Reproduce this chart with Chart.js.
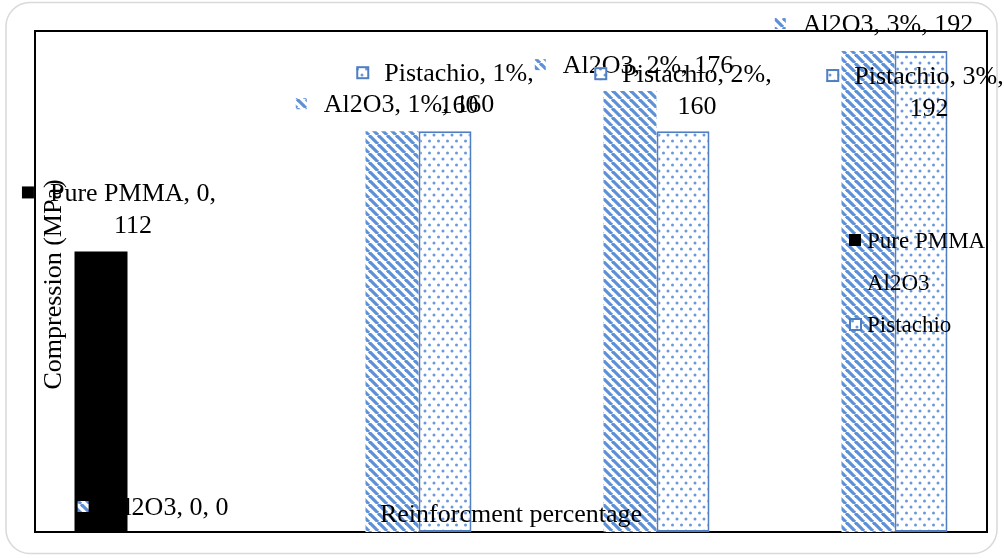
<!DOCTYPE html>
<html>
<head>
<meta charset="utf-8">
<script src="https://cdn.jsdelivr.net/npm/chart.js@4"></script>
<style>
html,body{margin:0;padding:0;background:#fff;}
#wrap{width:1004px;height:558px;position:relative;}
</style>
</head>
<body>
<div id="wrap"><canvas id="c" width="1004" height="558"></canvas></div>
<script>
// ---- data ----
const categories = ['0', '1%', '2%', '3%'];
const seriesNames = ['Pure PMMA', 'Al2O3', 'Pistachio'];
const pmmaValues = [112, null, null, null];
const al2o3Values = [0, 160, 176, 192];
const pistachioValues = [null, 160, 160, 192];
const yTickMin = 0;
const yTickMax = 200;
const yTitle = 'Compression (MPa)';
const xTitle = 'Reinforcment percentage';

// ---- patterns ----
const BLUE = '#5e90d8';
function stripePattern() {
  const s = 9;
  const c = document.createElement('canvas');
  c.width = s; c.height = s;
  const g = c.getContext('2d');
  g.fillStyle = '#fff'; g.fillRect(0, 0, s, s);
  g.strokeStyle = BLUE; g.lineWidth = 3.2;
  for (const x0 of [-s, 0, s]) {
    g.beginPath(); g.moveTo(x0, 0); g.lineTo(x0 + s, s); g.stroke();
  }
  return g.createPattern(c, 'repeat');
}
function dotPattern() {
  const w = 9, h = 12;
  const c = document.createElement('canvas');
  c.width = w; c.height = h;
  const g = c.getContext('2d');
  g.fillStyle = '#fff'; g.fillRect(0, 0, w, h);
  g.fillStyle = '#6b98da';
  for (const [x, y] of [[2, 3], [6.5, 9]]) {
    g.beginPath(); g.arc(x, y, 1.5, 0, Math.PI * 2); g.fill();
  }
  return g.createPattern(c, 'repeat');
}
const stripes = stripePattern();
const dots = dotPattern();

const SERIF = '"Liberation Serif", "Times New Roman", serif';

// label layout (styling only): offsets relative to each bar
const labelLayout = {
  '0-0': {dx: 32, dy: -50, two: true},
  '1-0': {dx: 13, dy: -17, two: false, under: true},
  '1-1': {dx: 17, dy: -19, two: false},
  '1-2': {dx: 18, dy: -18, two: false},
  '1-3': {dx: 20, dy: -19, two: false},
  '2-1': {dx: 14, dy: -50, two: true},
  '2-2': {dx: 14, dy: -49, two: true},
  '2-3': {dx: 8, dy: 33, two: true}
};

function drawKey(ctx, di, x, cy) {
  ctx.save();
  if (di === 0) {
    ctx.fillStyle = '#000';
    ctx.fillRect(x, cy - 6, 12, 12);
  } else if (di === 1) {
    ctx.fillStyle = stripes;
    ctx.fillRect(x, cy - 5, 11, 11);
  } else {
    ctx.fillStyle = dots;
    ctx.fillRect(x, cy - 6, 13, 13);
    ctx.strokeStyle = '#4f7fc0'; ctx.lineWidth = 2;
    ctx.strokeRect(x + 1, cy - 5, 11, 11);
  }
  ctx.restore();
}

function drawLabels(chart, under) {
  const ctx = chart.ctx;
  ctx.save();
  ctx.font = '26px ' + SERIF;
  ctx.fillStyle = '#000';
  ctx.textBaseline = 'alphabetic';
  ctx.textAlign = 'center';
  chart.data.datasets.forEach((ds, di) => {
    const meta = chart.getDatasetMeta(di);
    ds.data.forEach((v, i) => {
      if (v === null || v === undefined) return;
      const L = labelLayout[di + '-' + i];
      if (!L) return;
      const bar = meta.data[i];
      const cx = bar.x + L.dx;
      const by = bar.y + L.dy;
      const lines = L.two
        ? [seriesNames[di] + ', ' + categories[i] + ',', String(v)]
        : [seriesNames[di] + ', ' + categories[i] + ', ' + v];
      const w1 = ctx.measureText(lines[0]).width;
      if (under === !!L.under) {
        lines.forEach((t, k) => ctx.fillText(t, cx, by + k * 32));
      }
      if (!under) drawKey(ctx, di, cx - w1 / 2 - 28, by - 9);
    });
  });
  ctx.restore();
}

const decor = {
  id: 'decor',
  beforeDraw(chart) {
    const ctx = chart.ctx;
    ctx.save();
    ctx.fillStyle = '#fff';
    ctx.fillRect(0, 0, chart.width, chart.height);
    ctx.strokeStyle = '#d9d9d9';
    ctx.lineWidth = 1.5;
    ctx.beginPath();
    ctx.roundRect(6, 2.5, 991, 551, 24);
    ctx.stroke();
    ctx.restore();
  },
  beforeDatasetsDraw(chart) {
    const ctx = chart.ctx;
    const a = chart.chartArea;
    ctx.save();
    ctx.strokeStyle = '#000';
    ctx.lineWidth = 2;
    ctx.strokeRect(a.left, a.top, a.right - a.left, a.bottom - a.top);
    ctx.restore();
    drawLabels(chart, true);
  },
  afterDatasetsDraw(chart) {
    const ctx = chart.ctx;
    const a = chart.chartArea;
    drawLabels(chart, false);
    ctx.save();
    ctx.fillStyle = '#000';
    ctx.font = '26px ' + SERIF;
    ctx.textAlign = 'center';
    ctx.textBaseline = 'alphabetic';
    ctx.fillText(xTitle, (a.left + a.right) / 2, a.bottom - 10);
    ctx.save();
    ctx.translate(a.left + 19, (a.top + a.bottom) / 2 + 3);
    ctx.rotate(-Math.PI / 2);
    ctx.textBaseline = 'middle';
    ctx.fillText(yTitle, 0, 0);
    ctx.restore();
    // legend
    ctx.font = '23px ' + SERIF;
    ctx.textAlign = 'left';
    ctx.textBaseline = 'alphabetic';
    const lx = a.right - 120, ly0 = a.top + 217;
    seriesNames.forEach((n, k) => {
      const y = ly0 + k * 42;
      if (k === 1) {
        ctx.save(); ctx.globalAlpha = 0.25; drawKey(ctx, 1, lx - 18, y - 8); ctx.restore();
      } else {
        drawKey(ctx, k, lx - 18, y - 8);
      }
      ctx.fillText(n, lx, y);
    });
    ctx.restore();
  }
};

new Chart(document.getElementById('c'), {
  type: 'bar',
  data: {
    labels: categories,
    datasets: [
      {label: seriesNames[0], data: pmmaValues, backgroundColor: '#000', borderWidth: 0},
      {label: seriesNames[1], data: al2o3Values, backgroundColor: stripes, borderWidth: 0},
      {label: seriesNames[2], data: pistachioValues, backgroundColor: dots, borderColor: '#4f7fc0', borderWidth: 2, borderSkipped: false}
    ]
  },
  options: {
    responsive: false,
    animation: false,
    devicePixelRatio: 1,
    layout: {padding: {left: 35, top: 31, right: 17, bottom: 26}},
    datasets: {bar: {categoryPercentage: 0.668, barPercentage: 1.0}},
    scales: {
      x: {display: false},
      y: {display: false, min: yTickMin, max: yTickMax}
    },
    plugins: {legend: {display: false}, tooltip: {enabled: false}, title: {display: false}}
  },
  plugins: [decor]
});
</script>
</body>
</html>
